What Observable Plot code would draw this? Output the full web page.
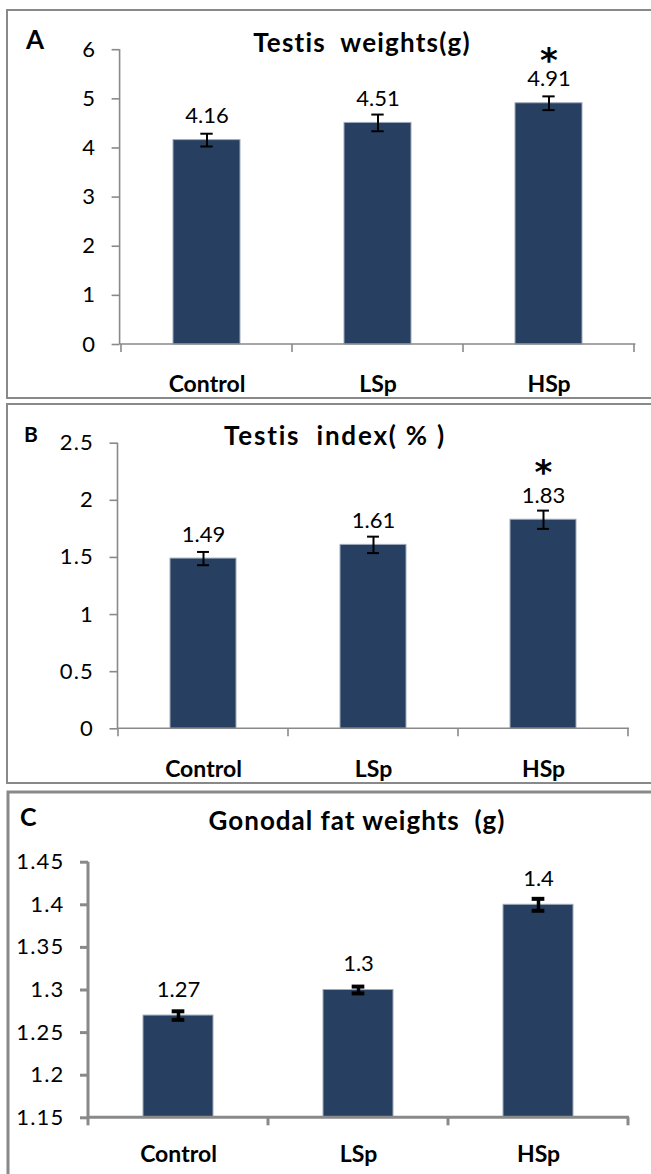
<!DOCTYPE html>
<html><head><meta charset="utf-8">
<script src="https://cdn.jsdelivr.net/npm/d3@7"></script>
<script src="https://cdn.jsdelivr.net/npm/@observablehq/plot@0.6"></script>
<style>
body{margin:0;background:#fff;overflow:hidden}
#root{position:relative;width:651px;height:1174px;overflow:hidden;font-family:Lato,sans-serif;background:#fff}
#root svg{position:absolute;left:0;overflow:visible}
#root svg text{white-space:pre}
#root g[aria-label="y-axis tick label"] text{letter-spacing:1.2px}
</style></head><body><div id="root"></div>
<script>
// ---- data ----
const groups = ["Control", "LSp", "HSp"];
const weightMeans = [4.16, 4.51, 4.91];
const weightErrs = [0.13, 0.17, 0.14];
const weightSig = [false, false, true];
const indexMeans = [1.49, 1.61, 1.83];
const indexErrs = [0.058, 0.072, 0.08];
const indexSig = [false, false, true];
const fatMeans = [1.27, 1.30, 1.40];
const fatErrs = [0.005, 0.004, 0.007];
const fatSig = [false, false, false];
const weightTicks = [0, 1, 2, 3, 4, 5, 6];
const indexTicks = [0, 0.5, 1, 1.5, 2, 2.5];
const fatTicks = [1.15, 1.2, 1.25, 1.3, 1.35, 1.4, 1.45];
const titles = ["Testis  weights(g)", "Testis  index( % )", "Gonodal fat weights  (g)"];
const letters = ["A", "B", "C"];

const BAR = "#274061", GREY = "#898989";
const W = 651;

const panels = [
  {means: weightMeans, errs: weightErrs, sig: weightSig, ticks: weightTicks, top: 0, height: 400,
   mt: 49.2, mb: 56, ml: 119.6, mr: 15.6, labelDy: -17, starDy: -42.4, xPad: 31,
   axisW: 1.6, errW: 2, capW: 2, capLen: 12.4},
  {means: indexMeans, errs: indexErrs, sig: indexSig, ticks: indexTicks, top: 400, height: 390,
   mt: 42.7, mb: 61.7, ml: 117.5, mr: 22, labelDy: -16.5, starDy: -47, xPad: 31.5,
   axisW: 1.6, errW: 2, capW: 2, capLen: 12.4},
  {means: fatMeans, errs: fatErrs, sig: fatSig, ticks: fatTicks, top: 790, height: 384,
   mt: 71.7, mb: 56.7, ml: 88, mr: 22, labelDy: -19, starDy: -45, xPad: 27.5,
   axisW: 3, errW: 3.5, capW: 4, capLen: 13}
];

function axisLines(color, w, len) {
  return (index, scales, values, dims) => {
    const x = scales.x;
    const bw = x.bandwidth();
    const step = x.step ? x.step() : bw / 0.39;
    const y0 = dims.height - dims.marginBottom;
    const g = d3.create("svg:g").attr("stroke", color).attr("stroke-width", w).attr("fill", "none");
    const xs = groups.map(c => x(c) - (step - bw) / 2);
    xs.push(x(groups[groups.length - 1]) + bw + (step - bw) / 2);
    g.selectAll("line.t").data(xs).join("line").attr("class", "t")
      .attr("x1", d => d).attr("x2", d => d).attr("y1", y0).attr("y2", y0 + len);
    g.append("line").attr("x1", dims.marginLeft).attr("x2", dims.width - dims.marginRight)
      .attr("y1", y0).attr("y2", y0);
    g.append("line").attr("x1", dims.marginLeft).attr("x2", dims.marginLeft)
      .attr("y1", dims.marginTop).attr("y2", y0);
    return g.node();
  };
}

const root = document.getElementById("root");

panels.forEach((p, i) => {
  const data = groups.map((g, k) => ({group: g, mean: p.means[k], err: p.errs[k], sig: p.sig[k]}));
  const yMin = p.ticks[0], yMax = p.ticks[p.ticks.length - 1];
  const bw = (W - p.ml - p.mr) / 3 * 0.39;
  const inset = (bw - p.capLen) / 2;
  const chart = Plot.plot({
    width: W, height: p.height,
    marginTop: p.mt, marginBottom: p.mb, marginLeft: p.ml, marginRight: p.mr,
    style: {background: "transparent", fontFamily: "Lato, sans-serif", overflow: "visible"},
    x: {type: "band", domain: groups, paddingInner: 0.61, paddingOuter: 0.305, align: 0.5},
    y: {domain: [yMin, yMax]},
    marks: [
      Plot.barY(data, {x: "group", y1: () => yMin, y2: "mean", fill: BAR, stroke: "#9fabbb", strokeWidth: 1}),
      Plot.ruleX(data, {x: "group", y1: d => d.mean - d.err, y2: d => d.mean + d.err, stroke: "black", strokeWidth: p.errW}),
      Plot.tickY(data, {x: "group", y: d => d.mean + d.err, stroke: "black", strokeWidth: p.capW, insetLeft: inset, insetRight: inset}),
      Plot.tickY(data, {x: "group", y: d => d.mean - d.err, stroke: "black", strokeWidth: p.capW, insetLeft: inset, insetRight: inset}),
      Plot.text(data, {x: "group", y: "mean", text: d => String(d.mean), dy: p.labelDy, lineAnchor: "bottom", fontSize: 22, fill: "black"}),
      Plot.text(data.filter(d => d.sig), {x: "group", y: "mean", text: () => "*", dy: p.starDy, lineAnchor: "middle", fontSize: 34, fontWeight: "bold", fontFamily: "DejaVu Sans", fill: "black"}),
      axisLines(GREY, p.axisW, 8),
      Plot.axisY({ticks: p.ticks, tickFormat: d => String(d), tickSize: 8, tickPadding: 16, stroke: GREY, strokeWidth: p.axisW, fill: "black", fontSize: 22, label: null}),
      Plot.axisX({tickSize: 0, tickPadding: p.xPad, fill: "black", fontSize: 23, fontWeight: "bold", label: null})
    ]
  });
  chart.style.top = p.top + "px";
  root.appendChild(chart);
});

// frames, titles and panel letters
const ov = d3.select(root).append("svg").attr("width", W).attr("height", 1174)
  .style("top", "0px").style("pointer-events", "none");
const frames = [
  {x: 7, y: 10, h: 388, w: 2},
  {x: 7, y: 404, h: 379, w: 2},
  {x: 8, y: 792, h: 500, w: 3}
];
frames.forEach(f => ov.append("rect").attr("x", f.x).attr("y", f.y).attr("width", 800).attr("height", f.h)
  .attr("fill", "none").attr("stroke", GREY).attr("stroke-width", f.w));
const titlePos = [{x: 362, y: 51.7, s: 26, ls: 1.2}, {x: 335, y: 445, s: 26, ls: 1.8}, {x: 357, y: 830, s: 26, ls: 1.0}];
titles.forEach((t, i) => ov.append("text").attr("x", titlePos[i].x).attr("y", titlePos[i].y)
  .attr("text-anchor", "middle").attr("font-weight", "bold").attr("font-size", titlePos[i].s)
  .style("letter-spacing", titlePos[i].ls + "px")
  .attr("font-family", "Lato, sans-serif").style("white-space", "pre").text(t));
const letterPos = [{x: 26, y: 49, s: 26}, {x: 24, y: 441.7, s: 21}, {x: 20, y: 826, s: 25}];
letters.forEach((t, i) => ov.append("text").attr("x", letterPos[i].x).attr("y", letterPos[i].y)
  .attr("font-weight", "bold").attr("font-size", letterPos[i].s)
  .attr("font-family", "Lato, sans-serif").text(t));
</script></body></html>
